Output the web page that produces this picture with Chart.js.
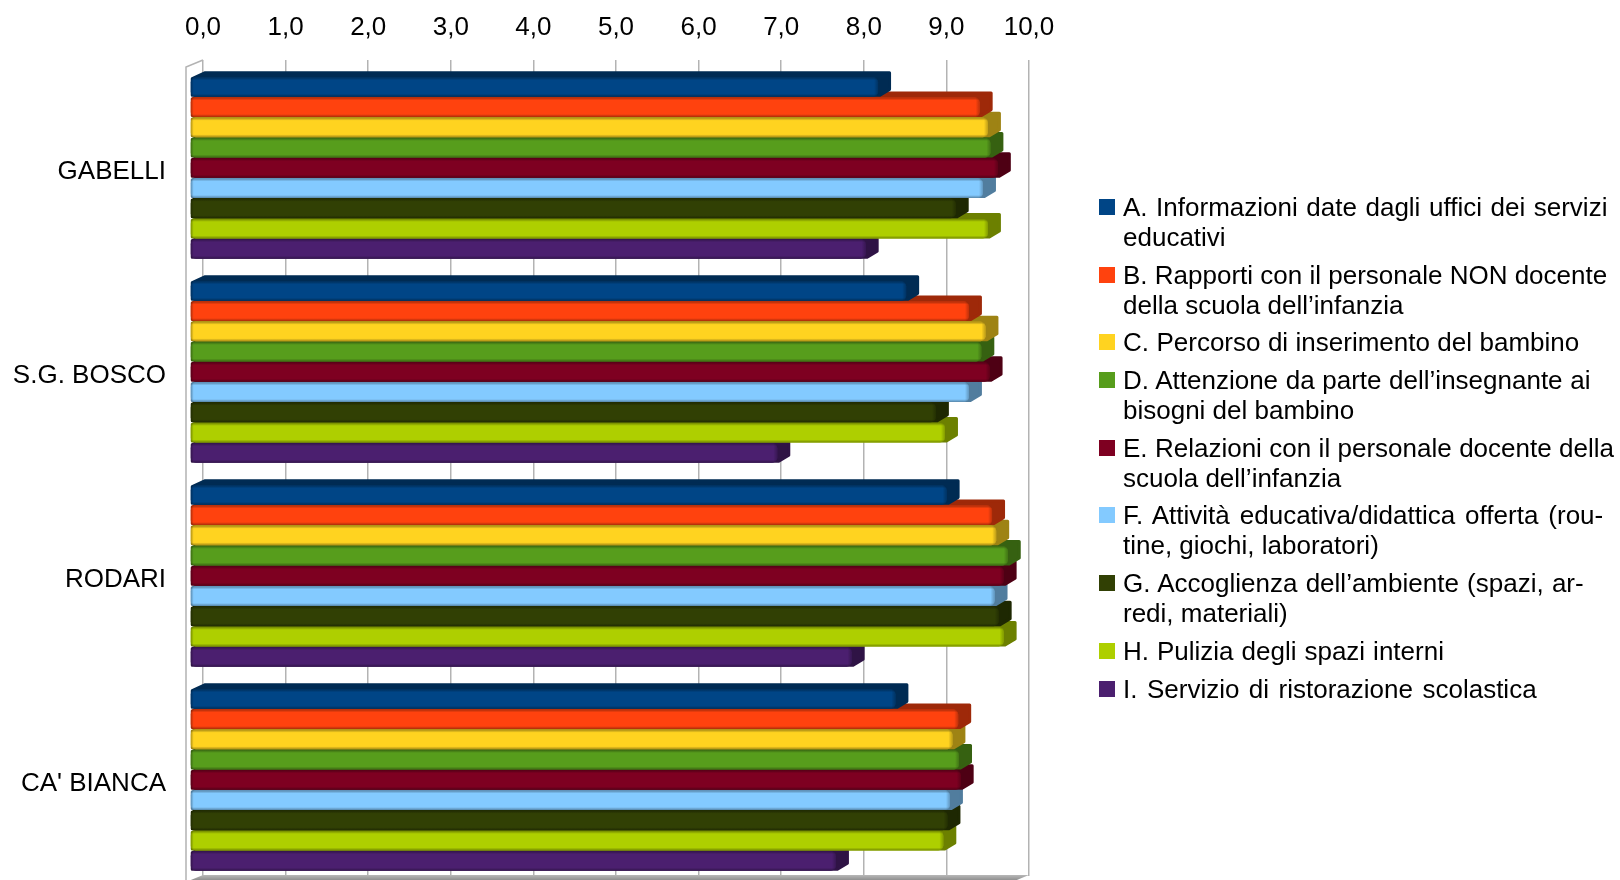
<!DOCTYPE html>
<html>
<head>
<meta charset="utf-8">
<style>
  body { margin: 0; background: #fff; }
  #wrap { position: relative; width: 1620px; height: 880px; overflow: hidden; }
  canvas { position: absolute; left: 0; top: 0; }
  #legend { position: absolute; left: 1099px; top: 192px; font: 26px "Liberation Sans", sans-serif; color: #000; line-height: 30px; }
  .item { position: relative; padding-left: 24px; margin-bottom: 7.7px; white-space: nowrap; }
  .swatch { position: absolute; left: 0; top: 7px; width: 16px; height: 16px; }
</style>
</head>
<body>
<div id="wrap">
  <canvas id="chart" width="1620" height="880"></canvas>
  <div id="legend"></div>
</div>
<script src="https://cdn.jsdelivr.net/npm/chart.js@4"></script>
<script>
const schools = ["GABELLI", "S.G. BOSCO", "RODARI", "CA' BIANCA"];

const serieA = [8.33, 8.67, 9.16, 8.54];
const serieB = [9.56, 9.43, 9.71, 9.30];
const serieC = [9.66, 9.63, 9.76, 9.23];
const serieD = [9.69, 9.58, 9.90, 9.31];
const serieE = [9.78, 9.68, 9.85, 9.33];
const serieF = [9.60, 9.43, 9.74, 9.20];
const serieG = [9.27, 9.03, 9.79, 9.17];
const serieH = [9.66, 9.14, 9.85, 9.12];
const serieI = [8.18, 7.11, 8.01, 7.82];

const allSeries = [serieA, serieB, serieC, serieD, serieE, serieF, serieG, serieH, serieI];

const colors = ["#004586", "#ff420e", "#ffd320", "#579d1c", "#7e0021", "#83caff", "#314004", "#aecf00", "#4b1f6f"];

const legendLines = [
  ["A. Informazioni date dagli uffici dei servizi", "educativi"],
  ["B. Rapporti con il personale NON docente", "della scuola dell’infanzia"],
  ["C. Percorso di inserimento del bambino"],
  ["D. Attenzione da parte dell’insegnante ai", "bisogni del bambino"],
  ["E. Relazioni con il personale docente della", "scuola dell’infanzia"],
  ["F. Attività educativa/didattica offerta (rou-", "tine, giochi, laboratori)"],
  ["G. Accoglienza dell’ambiente (spazi, ar-", "redi, materiali)"],
  ["H. Pulizia degli spazi interni"],
  ["I. Servizio di ristorazione scolastica"]
];
// the reference justifies the first line of each entry, px added over the whole line
const lineStretch = [8, 0, 1, 2, 1, 11, 4, 3, 9];

const FONT = "'Liberation Sans', sans-serif";
const depthX = -13; // front face offset from the back plane
const depthY = 6;

function shade(hex, f) {
  const n = parseInt(hex.slice(1), 16);
  const r = Math.round((n >> 16) * f);
  const g = Math.round(((n >> 8) & 255) * f);
  const b = Math.round((n & 255) * f);
  return `rgb(${r},${g},${b})`;
}

// Left wall and floor of the 3D box
const boxPlugin = {
  id: "box",
  beforeDatasetsDraw(chart) {
    const { ctx, chartArea: a } = chart;
    const floorY = a.bottom - 1;
    ctx.save();
    const grad = ctx.createLinearGradient(0, floorY, 0, floorY + 7);
    grad.addColorStop(0, "#b8b8b8");
    grad.addColorStop(1, "#808080");
    ctx.fillStyle = grad;
    ctx.beginPath();
    ctx.moveTo(a.left, floorY);
    ctx.lineTo(a.right, floorY);
    ctx.lineTo(a.right - 17, floorY + 7);
    ctx.lineTo(a.left - 17, floorY + 7);
    ctx.closePath();
    ctx.fill();
    ctx.strokeStyle = "#b3b3b3";
    ctx.lineWidth = 1.5;
    ctx.beginPath();
    ctx.moveTo(a.left, a.top);
    ctx.lineTo(a.left - 17, a.top + 7);
    ctx.lineTo(a.left - 17, 880);
    ctx.stroke();
    ctx.restore();
  }
};

// Extrusion behind each bar, the bar itself shifted to the front plane, then its bevel
const barsPlugin = {
  id: "bars3d",
  beforeDatasetDraw(chart, args) {
    const ctx = chart.ctx;
    const color = colors[args.index];
    ctx.save();
    args.meta.data.forEach(bar => {
      const top = bar.y - bar.height / 2;
      const bottom = bar.y + bar.height / 2;
      const i = 1.5;
      ctx.beginPath();
      ctx.moveTo(bar.base + depthX + i, top + depthY + i);
      ctx.lineTo(bar.base + i, top + i);
      ctx.lineTo(bar.x - i, top + i);
      ctx.lineTo(bar.x - i, bottom - i);
      ctx.lineTo(bar.x + depthX + i, bottom + depthY - i);
      ctx.lineTo(bar.base + depthX + i, bottom + depthY - i);
      ctx.closePath();
      ctx.fillStyle = ctx.strokeStyle = shade(color, 0.62);
      ctx.lineWidth = 3;
      ctx.lineJoin = "round";
      ctx.fill();
      ctx.stroke();
    });
    ctx.restore();
    ctx.save();
    ctx.translate(depthX, depthY);
  },
  afterDatasetDraw(chart, args) {
    const ctx = chart.ctx;
    args.meta.data.forEach(bar => {
      const top = bar.y - bar.height / 2;
      const bottom = bar.y + bar.height / 2;
      const left = bar.base;
      const width = bar.x - bar.base;
      ctx.save();
      ctx.beginPath();
      ctx.roundRect(left, top, width, bar.height, 5);
      ctx.clip();
      let g = ctx.createLinearGradient(0, top, 0, top + 3);
      g.addColorStop(0, "rgba(0,0,0,0.35)");
      g.addColorStop(1, "rgba(0,0,0,0)");
      ctx.fillStyle = g;
      ctx.fillRect(left, top, width, 3);
      g = ctx.createLinearGradient(0, bottom - 3, 0, bottom);
      g.addColorStop(0, "rgba(0,0,0,0)");
      g.addColorStop(1, "rgba(0,0,0,0.35)");
      ctx.fillStyle = g;
      ctx.fillRect(left, bottom - 3, width, 3);
      g = ctx.createLinearGradient(left, 0, left + 3, 0);
      g.addColorStop(0, "rgba(0,0,0,0.3)");
      g.addColorStop(1, "rgba(0,0,0,0)");
      ctx.fillStyle = g;
      ctx.fillRect(left, top, 3, bar.height);
      g = ctx.createLinearGradient(bar.x - 4, 0, bar.x, 0);
      g.addColorStop(0, "rgba(0,0,0,0)");
      g.addColorStop(1, "rgba(0,0,0,0.25)");
      ctx.fillStyle = g;
      ctx.fillRect(bar.x - 4, top, 4, bar.height);
      ctx.restore();
    });
    ctx.restore();
  }
};

new Chart(document.getElementById("chart"), {
  type: "bar",
  data: {
    labels: schools,
    datasets: allSeries.map((values, i) => ({
      label: legendLines[i].join(" "),
      data: values,
      backgroundColor: colors[i],
      borderWidth: 0,
      borderRadius: 5,
      borderSkipped: false,
      categoryPercentage: 0.893,
      barPercentage: 0.97,
      clip: false
    }))
  },
  options: {
    indexAxis: "y",
    responsive: false,
    maintainAspectRatio: false,
    animation: false,
    layout: { autoPadding: false, padding: { left: 0, right: 591, top: 0, bottom: 4 } },
    plugins: { legend: { display: false }, tooltip: { enabled: false } },
    scales: {
      x: {
        position: "top",
        min: 0,
        max: 10,
        afterFit: s => { s.height = 60; },
        border: { display: false },
        grid: { color: "#b3b3b3", lineWidth: 1.5, drawTicks: false },
        ticks: {
          stepSize: 1,
          padding: 17,
          maxRotation: 0,
          color: "#000",
          font: { family: FONT, size: 26 },
          callback: v => v.toFixed(1).replace(".", ",")
        }
      },
      y: {
        afterFit: s => {
          s.width = 203;
          // tick padding would otherwise be reserved below the plot as well
          s.paddingTop = 0;
          s.paddingBottom = 0;
        },
        border: { display: false },
        grid: { display: false, drawTicks: false },
        ticks: {
          padding: 37,
          labelOffset: 10,
          color: "#000",
          font: { family: FONT, size: 26 }
        }
      }
    }
  },
  plugins: [boxPlugin, barsPlugin]
});

// Legend with the wrapped lines of the reference
const legend = document.getElementById("legend");
legendLines.forEach((lines, i) => {
  const item = document.createElement("div");
  item.className = "item";
  const swatch = document.createElement("span");
  swatch.className = "swatch";
  swatch.style.background = colors[i];
  item.appendChild(swatch);
  lines.forEach((line, j) => {
    if (j) item.appendChild(document.createElement("br"));
    const text = document.createElement("span");
    text.textContent = line;
    if (j === 0) text.style.wordSpacing = lineStretch[i] / (line.split(" ").length - 1) + "px";
    item.appendChild(text);
  });
  legend.appendChild(item);
});
</script>
</body>
</html>
